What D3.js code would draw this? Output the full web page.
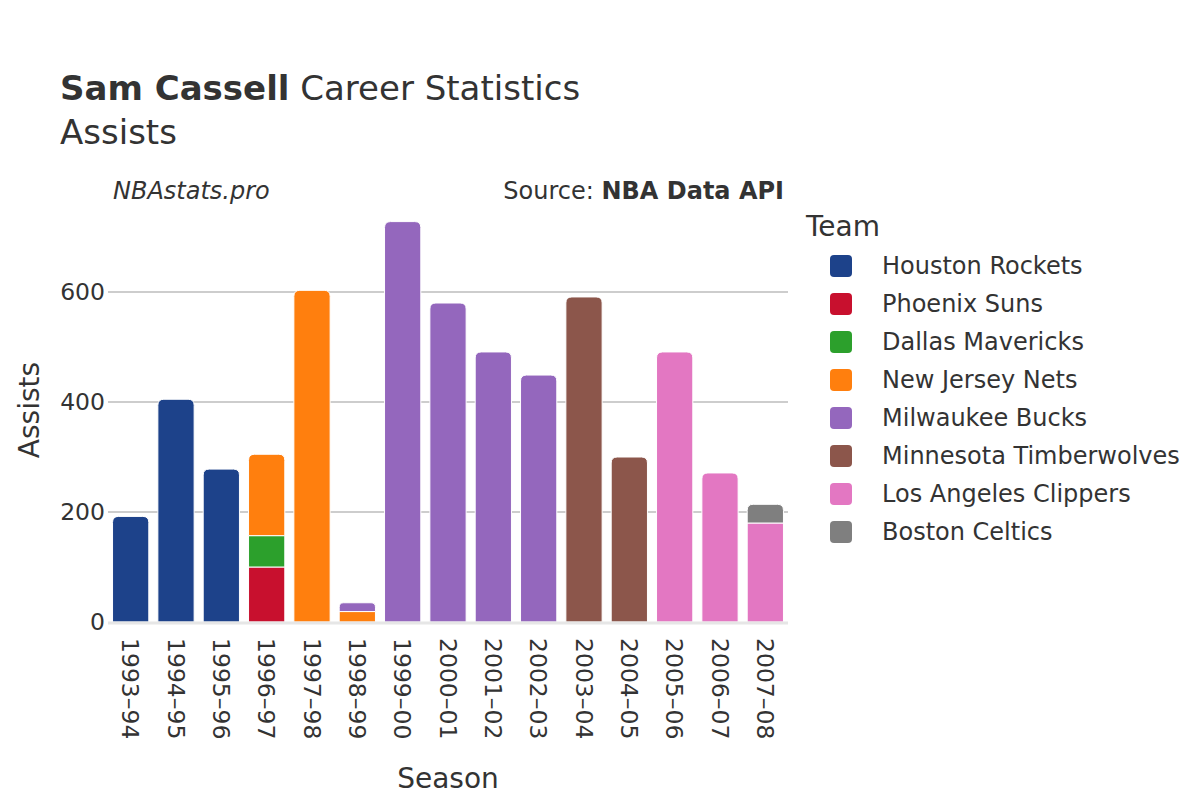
<!DOCTYPE html>
<html><head><meta charset="utf-8">
<script src="https://cdn.jsdelivr.net/npm/d3@7"></script>
<style>body{margin:0;background:#fff}text{font-family:"DejaVu Sans",sans-serif;fill:#333}</style>
</head><body><svg id="c" width="1200" height="800"></svg>
<script>
const seasons = ["1993–94","1994–95","1995–96","1996–97","1997–98","1998–99","1999–00","2000–01","2001–02","2002–03","2003–04","2004–05","2005–06","2006–07","2007–08"];
const teams = ["Houston Rockets","Phoenix Suns","Dallas Mavericks","New Jersey Nets","Milwaukee Bucks","Minnesota Timberwolves","Los Angeles Clippers","Boston Celtics"];
const teamColors = ["#1d428a","#c8102e","#2ca02c","#ff7f0e","#9467bd","#8c564b","#e377c2","#7f7f7f"];
// stacked segments per season: [season, team, assists]
const segSeason = ["1993–94","1994–95","1995–96","1996–97","1996–97","1996–97","1997–98","1998–99","1998–99","1999–00","2000–01","2001–02","2002–03","2003–04","2004–05","2005–06","2006–07","2007–08","2007–08"];
const segTeam = ["Houston Rockets","Houston Rockets","Houston Rockets","Phoenix Suns","Dallas Mavericks","New Jersey Nets","New Jersey Nets","New Jersey Nets","Milwaukee Bucks","Milwaukee Bucks","Milwaukee Bucks","Milwaukee Bucks","Milwaukee Bucks","Minnesota Timberwolves","Minnesota Timberwolves","Los Angeles Clippers","Los Angeles Clippers","Los Angeles Clippers","Boston Celtics"];
const segValue = [192,405,278,100,57,148,603,19,16,728,580,491,449,591,300,491,271,180,34];
const yTicks = [0,200,400,600];

const svg = d3.select("#c");
const L=108,R=788,B=622;
const x = d3.scaleBand().domain(seasons).range([L,R]).paddingInner(0.2).paddingOuter(0.1);
const y = d3.scaleLinear().domain([0,600]).range([B,292]);
const color = d3.scaleOrdinal().domain(teams).range(teamColors);

// grid
svg.append("g").selectAll("line").data(yTicks.filter(d=>d>0)).join("line")
  .attr("x1",L).attr("x2",R).attr("y1",d=>y(d)).attr("y2",d=>y(d))
  .attr("stroke","#bdbdbd").attr("stroke-width",1.5);
svg.append("g").selectAll("text").data(yTicks).join("text")
  .attr("x",L-3).attr("y",d=>y(d)).attr("dy","0.35em").attr("text-anchor","end")
  .attr("font-size",23.5).text(d=>d);

// stack
const segs=[]; const base={};
segSeason.forEach((s,i)=>{const b=base[s]||0; segs.push({s,t:segTeam[i],y0:b,y1:b+segValue[i]}); base[s]=b+segValue[i];});
const topIdx={}; segs.forEach((d,i)=>topIdx[d.s]=i);
function barPath(d,i){
  const x0=x(d.s), w=x.bandwidth(), yt=y(d.y1), yb=y(d.y0);
  const h=yb-yt; const r=(topIdx[d.s]===i)?Math.min(6,h/2,w/2):0;
  return `M${x0},${yb}L${x0},${yt+r}Q${x0},${yt} ${x0+r},${yt}L${x0+w-r},${yt}Q${x0+w},${yt} ${x0+w},${yt+r}L${x0+w},${yb}Z`;
}
svg.append("g").selectAll("path").data(segs).join("path")
  .attr("d",barPath).attr("fill",d=>color(d.t)).attr("stroke","#fff").attr("stroke-width",1);

// zero line
svg.append("line").attr("x1",L).attr("x2",R).attr("y1",y(0)+1).attr("y2",y(0)+1)
  .attr("stroke","#e6e6e6").attr("stroke-width",3);

// x tick labels
svg.append("g").selectAll("text").data(seasons).join("text")
  .attr("transform",d=>`translate(${x(d)+x.bandwidth()/2},638) rotate(90)`)
  .attr("dy","0.35em").attr("font-size",23.5).text(d=>d);

// axis titles
svg.append("text").attr("x",448).attr("y",788).attr("text-anchor","middle").attr("font-size",28).text("Season");
svg.append("text").attr("transform","translate(29,410) rotate(-90)").attr("text-anchor","middle").attr("dy","0.35em").attr("font-size",28).text("Assists");

// titles
const t=svg.append("text").attr("x",60).attr("y",100).attr("font-size",34);
t.append("tspan").attr("font-weight","bold").text("Sam Cassell");
t.append("tspan").text(" Career Statistics");
svg.append("text").attr("x",60).attr("y",144).attr("font-size",34).text("Assists");
svg.append("text").attr("x",113).attr("y",199).attr("font-size",24).attr("font-style","italic").text("NBAstats.pro");
const s=svg.append("text").attr("x",784).attr("y",199).attr("font-size",24).attr("text-anchor","end");
s.append("tspan").text("Source: ");
s.append("tspan").attr("font-weight","bold").text("NBA Data API");

// legend
svg.append("text").attr("x",806).attr("y",236).attr("font-size",28).text("Team");
const lg=svg.append("g").selectAll("g").data(teams).join("g")
  .attr("transform",(d,i)=>`translate(830,${266+i*38})`);
lg.append("rect").attr("x",0).attr("y",-11).attr("width",22).attr("height",22).attr("rx",4).attr("fill",d=>color(d));
lg.append("text").attr("x",52).attr("dy","0.35em").attr("font-size",24).text(d=>d);
</script></body></html>
